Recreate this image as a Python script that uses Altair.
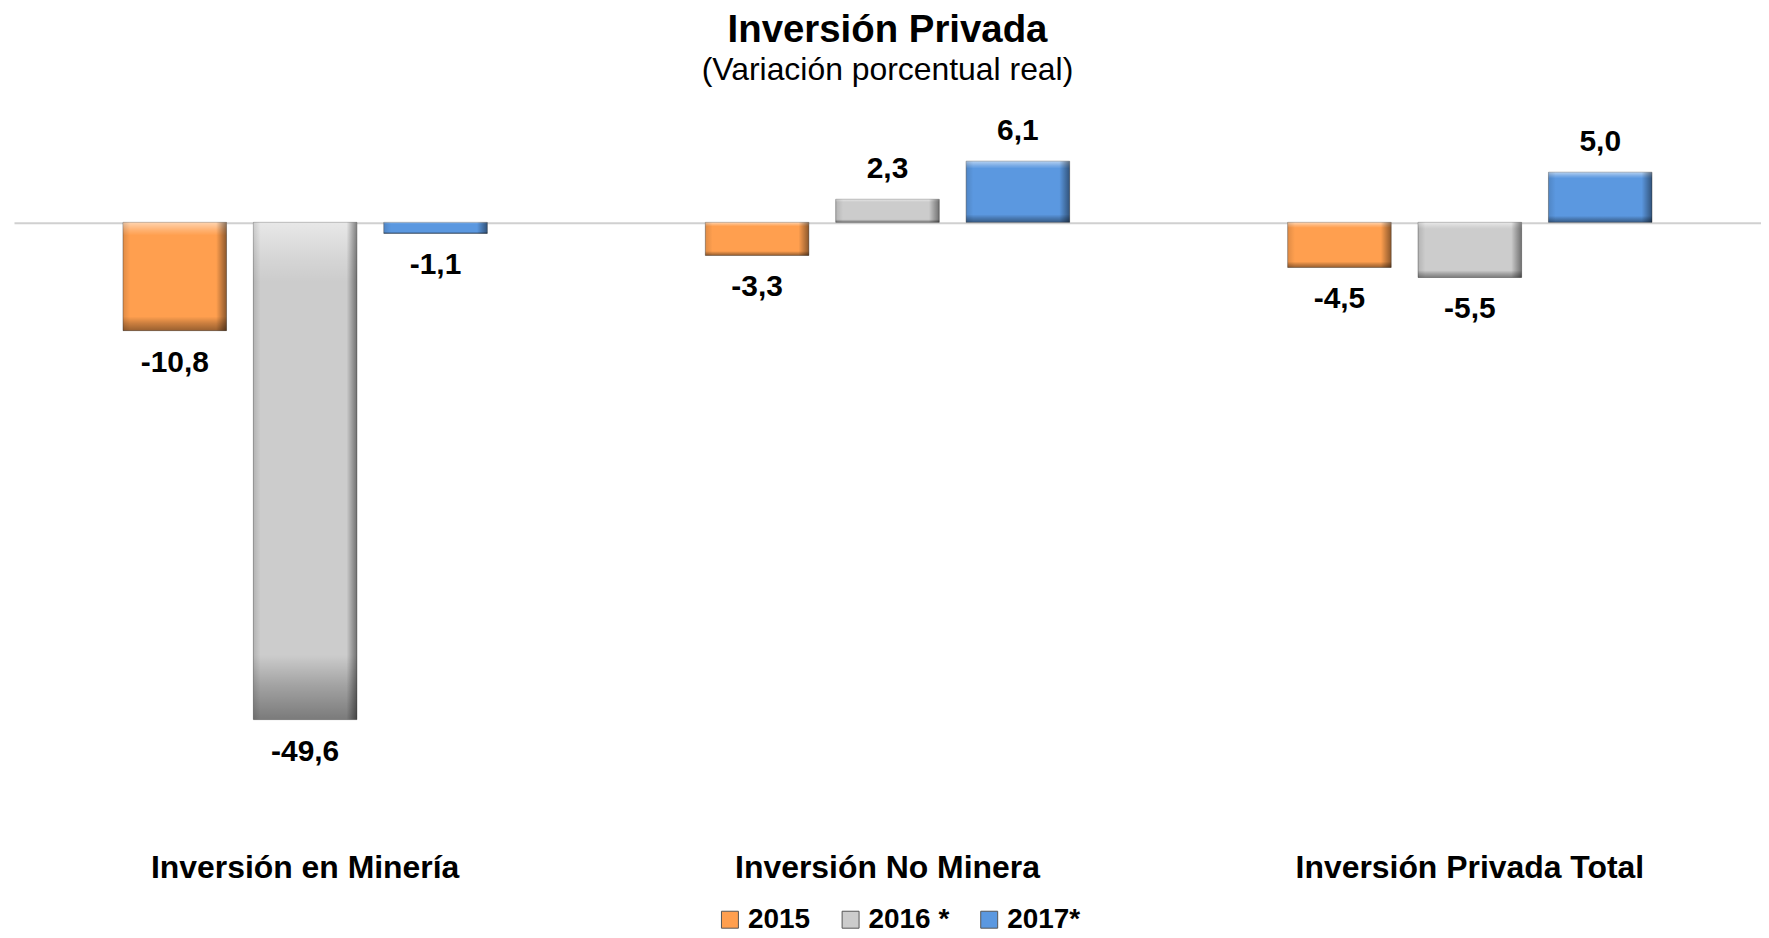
import altair as alt
import pandas as pd

categories = ["Inversión en Minería", "Inversión No Minera", "Inversión Privada Total"]
years = ["2015", "2016 *", "2017*"]
values_2015 = [-10.8, -3.3, -4.5]
values_2016 = [-49.6, 2.3, -5.5]
values_2017 = [-1.1, 6.1, 5.0]
colors = ["#FF9F4F", "#CCCCCC", "#5B98E0"]

rows = []
for yr, vals in zip(years, [values_2015, values_2016, values_2017]):
    for cat, v in zip(categories, vals):
        rows.append({"cat": cat, "year": yr, "value": v,
                     "label": f"{v:.1f}".replace(".", ",")})
df = pd.DataFrame(rows)

FONT = "Liberation Sans"

x_enc = alt.X("cat:N", sort=categories,
              scale=alt.Scale(paddingInner=0, paddingOuter=0),
              axis=alt.Axis(title=None, labelAngle=0, domain=False, ticks=False,
                            grid=False, labelFont=FONT, labelFontSize=32,
                            labelFontWeight="bold", labelColor="black",
                            labelPadding=9, labelLimit=600))
xo_enc = alt.XOffset("year:N", sort=years,
                     scale=alt.Scale(paddingInner=0.206, paddingOuter=0.836))
y_enc = alt.Y("value:Q", scale=alt.Scale(domain=[-62, 12], nice=False, zero=True),
              axis=alt.Axis(values=[0], grid=True, gridColor="#D0D0D0", gridWidth=2,
                            labels=False, ticks=False, domain=False, title=None))
y_plain = alt.Y("value:Q")

base = alt.Chart(df)

bars = base.mark_bar(strokeWidth=1, stroke="#444444", strokeOpacity=0.45).encode(
    x=x_enc, xOffset=xo_enc, y=y_enc,
    color=alt.Color("year:N", sort=years,
                    scale=alt.Scale(domain=years, range=colors),
                    legend=alt.Legend(title=None, orient="none", direction="horizontal",
                                      legendX=704, legendY=806, padding=0,
                                      symbolType="square", symbolSize=289,
                                      symbolOpacity=1, symbolStrokeColor="#555555",
                                      symbolStrokeWidth=1,
                                      labelFont=FONT, labelFontSize=28,
                                      labelFontWeight="bold", labelColor="black",
                                      labelOffset=4, columnPadding=26)),
)

vgrad = alt.Gradient(gradient="linear", x1=0, x2=0, y1=0, y2=1, stops=[
    alt.GradientStop(color="rgba(255,255,255,0.55)", offset=0),
    alt.GradientStop(color="rgba(255,255,255,0.2)", offset=0.07),
    alt.GradientStop(color="rgba(255,255,255,0)", offset=0.12),
    alt.GradientStop(color="rgba(0,0,0,0)", offset=0.87),
    alt.GradientStop(color="rgba(0,0,0,0.2)", offset=0.93),
    alt.GradientStop(color="rgba(0,0,0,0.4)", offset=1),
])
hgrad = alt.Gradient(gradient="linear", x1=0, x2=1, y1=0, y2=0, stops=[
    alt.GradientStop(color="rgba(0,0,0,0.12)", offset=0),
    alt.GradientStop(color="rgba(0,0,0,0)", offset=0.07),
    alt.GradientStop(color="rgba(0,0,0,0)", offset=0.9),
    alt.GradientStop(color="rgba(0,0,0,0.45)", offset=1),
])

shade_v = base.mark_bar(fill=vgrad).encode(x=x_enc, xOffset=xo_enc, y=y_plain)
shade_h = base.mark_bar(fill=hgrad).encode(x=x_enc, xOffset=xo_enc, y=y_plain)

text_pos = base.transform_filter("datum.value >= 0").mark_text(
    font=FONT, fontSize=30, fontWeight="bold", color="black",
    baseline="middle", dy=-30).encode(x=x_enc, xOffset=xo_enc, y=y_plain, text="label:N")
text_neg = base.transform_filter("datum.value < 0").mark_text(
    font=FONT, fontSize=30, fontWeight="bold", color="black",
    baseline="middle", dy=32).encode(x=x_enc, xOffset=xo_enc, y=y_plain, text="label:N")

chart = alt.layer(bars, shade_v, shade_h, text_pos, text_neg).properties(
    width=1752, height=744,
    autosize=alt.AutoSizeParams(type="none"),
    padding={"left": 6, "top": 93, "right": 0, "bottom": 92},
    title=alt.TitleParams(text="Inversión Privada", subtitle="(Variación porcentual real)",
                          font=FONT, fontSize=38.5, fontWeight="bold", color="black",
                          subtitleFont=FONT, subtitleFontSize=32, subtitleColor="black",
                          anchor="middle", offset=15, subtitlePadding=5),
).configure(font=FONT).configure_view(stroke=None)

chart.save("out.html", embed_options={"renderer": "svg", "actions": False})
